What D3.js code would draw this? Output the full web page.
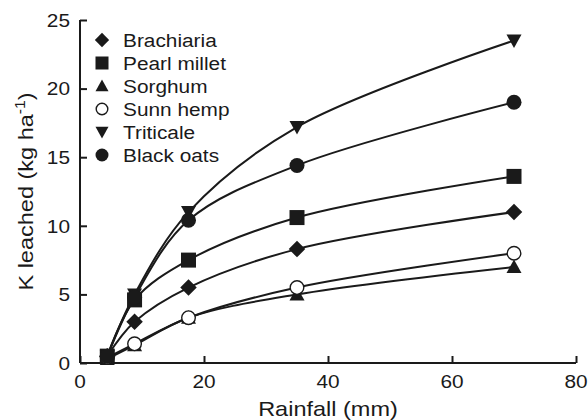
<!DOCTYPE html>
<html><head><meta charset="utf-8">
<script src="https://cdn.jsdelivr.net/npm/d3@7"></script>
<style>body{margin:0;background:#fff}svg{display:block}text{font-family:"Liberation Sans",Arial,sans-serif;fill:#1a1a1a}</style>
</head><body><svg id="c" width="588" height="420"></svg>
<script>
const rainfall = [4.4, 8.8, 17.5, 35, 70];
const seriesNames = ["Brachiaria", "Pearl millet", "Sorghum", "Sunn hemp", "Triticale", "Black oats"];
const brachiaria = [0.5, 3.0, 5.5, 8.3, 11.0];
const pearlMillet = [0.5, 4.6, 7.5, 10.6, 13.6];
const sorghum = [0.3, 1.3, 3.3, 5.0, 7.0];
const sunnHemp = [0.4, 1.4, 3.3, 5.5, 8.0];
const triticale = [0.5, 5.0, 11.0, 17.2, 23.5];
const blackOats = [0.5, 4.8, 10.4, 14.4, 19.0];
const xTicks = [0, 20, 40, 60, 80];
const yTicks = [0, 5, 10, 15, 20, 25];

const seriesValues = [brachiaria, pearlMillet, sorghum, sunnHemp, triticale, blackOats];
const shapes = ["diamond", "square", "triUp", "circleOpen", "triDown", "circle"];
const ink = "#1a1a1a";
const SX = 1.12;

const svg = d3.select("#c");
const x = d3.scaleLinear().domain([0, 80]).range([80, 576]);
const y = d3.scaleLinear().domain([0, 25]).range([363, 20]);

function txt(g, px, py, str, size, anchor, rot) {
  return g.append("text")
    .attr("transform", `translate(${px},${py})${rot ? " rotate(" + rot + ")" : ""} scale(${SX},1)`)
    .attr("text-anchor", anchor).attr("font-size", size).text(str);
}

function drawMarker(g, shape, cx, cy, s) {
  const h = s / 2;
  if (shape === "diamond") {
    g.append("path").attr("d", `M${cx},${cy-h*1.1}L${cx+h*1.1},${cy}L${cx},${cy+h*1.1}L${cx-h*1.1},${cy}Z`).attr("fill", ink);
  } else if (shape === "square") {
    g.append("rect").attr("x", cx-h).attr("y", cy-h).attr("width", s).attr("height", s).attr("fill", ink);
  } else if (shape === "triUp") {
    g.append("path").attr("d", `M${cx},${cy-h}L${cx+h},${cy+h*0.8}L${cx-h},${cy+h*0.8}Z`).attr("fill", ink);
  } else if (shape === "triDown") {
    g.append("path").attr("d", `M${cx},${cy+h}L${cx+h},${cy-h*0.8}L${cx-h},${cy-h*0.8}Z`).attr("fill", ink);
  } else if (shape === "circle") {
    g.append("circle").attr("cx", cx).attr("cy", cy).attr("r", h).attr("fill", ink);
  } else if (shape === "circleOpen") {
    g.append("circle").attr("cx", cx).attr("cy", cy).attr("r", h-0.7).attr("fill", "#fff").attr("stroke", ink).attr("stroke-width", 1.4);
  }
}

// axes (lines + ticks via d3 axis; labels drawn with horizontal stretch)
const xAxis = d3.axisBottom(x).tickValues(xTicks).tickSizeInner(-7).tickSizeOuter(0).tickFormat("");
const gx = svg.append("g").attr("transform", `translate(0,${y(0)})`).call(xAxis);
const yAxis = d3.axisLeft(y).tickValues(yTicks).tickSizeInner(-7).tickSizeOuter(0).tickFormat("");
const gy = svg.append("g").attr("transform", `translate(${x(0)},0)`).call(yAxis);
[gx, gy].forEach(g => {
  g.select(".domain").attr("stroke", ink).attr("stroke-width", 2);
  g.selectAll(".tick line").attr("stroke", ink).attr("stroke-width", 2);
  g.selectAll(".tick text").remove();
});
gy.select(".domain").attr("d", `M0,${y(0)}V${y(25)}`);
gx.select(".domain").attr("d", `M${x(0)},0H${x(80)}`);

const labels = svg.append("g");
xTicks.forEach(t => txt(labels, x(t), 388, String(t), 18.6, "middle"));
yTicks.forEach(t => txt(labels, 70, y(t) + 6.7, String(t), 18.6, "end"));

// titles
txt(svg, 328, 416, "Rainfall (mm)", 21, "middle");
const yt = txt(svg, 33, (y(0) + y(25)) / 2, "", 21, "middle", -90);
yt.append("tspan").text("K leached (kg ha");
yt.append("tspan").attr("dy", -8).attr("font-size", 14).text("-1");
yt.append("tspan").attr("dy", 8).text(")");

// lines
const line = d3.line().x((d, i) => x(rainfall[i])).y(d => y(d)).curve(d3.curveCatmullRom.alpha(0.5));
const gl = svg.append("g");
seriesValues.forEach(vals => {
  gl.append("path").attr("d", line(vals)).attr("fill", "none").attr("stroke", ink).attr("stroke-width", 2);
});
const gm = svg.append("g");
seriesValues.forEach((vals, si) => {
  vals.forEach((v, i) => drawMarker(gm, shapes[si], x(rainfall[i]), y(v), 15));
});

// legend
const lg = svg.append("g");
seriesNames.forEach((n, i) => {
  const cy = 40 + i * 23;
  drawMarker(lg, shapes[i], 102, cy, 13);
  txt(lg, 123, cy + 6.7, n, 18.6, "start");
});
</script></body></html>
